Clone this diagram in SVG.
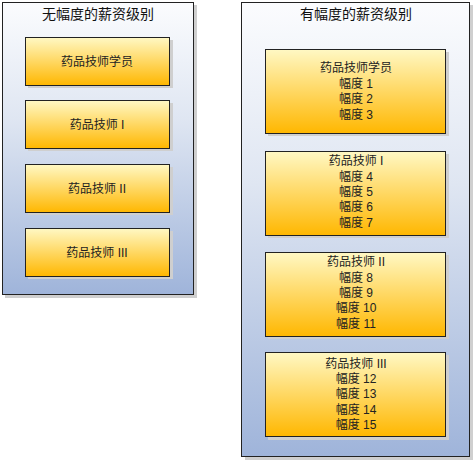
<svg xmlns="http://www.w3.org/2000/svg" width="474" height="462" viewBox="0 0 474 462">
<defs>
<linearGradient id="cg" x1="0" y1="0" x2="0" y2="1"><stop offset="0" stop-color="#fbfcfe"/><stop offset="0.4" stop-color="#dfe6f2"/><stop offset="1" stop-color="#9fb4da"/></linearGradient>
<linearGradient id="bg" x1="0" y1="0" x2="0" y2="1"><stop offset="0" stop-color="#fff8c4"/><stop offset="1" stop-color="#ffb700"/></linearGradient>
</defs>
<style>
.sh{fill:#cfcfcf}
.c{fill:url(#cg);stroke:#222;stroke-width:1}
.b{fill:url(#bg);stroke:#222;stroke-width:1}
text{font-family:"Liberation Sans","Noto Sans CJK SC",sans-serif;font-size:12px;fill:#222;text-anchor:middle}
.t{font-size:14px;fill:#111}
</style>
<g id="container-left">
<rect class="sh" x="5" y="5" width="192" height="293"/>
<rect class="c" x="2.5" y="2.5" width="191" height="292"/>
<text class="t" x="98" y="19">无幅度的薪资级别</text>
</g>
<g id="container-right">
<rect class="sh" x="245" y="5" width="228" height="455"/>
<rect class="c" x="241.5" y="2.5" width="228" height="454"/>
<text class="t" x="356" y="19">有幅度的薪资级别</text>
</g>
<g id="l1"><rect class="sh" x="28" y="40" width="145" height="48"/><rect class="b" x="25.5" y="37.5" width="144" height="48"/><text x="97" y="66">药品技师学员</text></g>
<g id="l2"><rect class="sh" x="28" y="103" width="145" height="48"/><rect class="b" x="25.5" y="100.5" width="144" height="48"/><text x="97" y="129">药品技师 I</text></g>
<g id="l3"><rect class="sh" x="28" y="167" width="145" height="48"/><rect class="b" x="25.5" y="164.5" width="144" height="48"/><text x="97" y="193">药品技师 II</text></g>
<g id="l4"><rect class="sh" x="28" y="231" width="145" height="48"/><rect class="b" x="25.5" y="228.5" width="144" height="48"/><text x="97" y="257">药品技师 III</text></g>
<g id="r1"><rect class="sh" x="268" y="52" width="181" height="84"/><rect class="b" x="265.5" y="49.5" width="180" height="84"/>
<text x="356" y="72">药品技师学员</text><text x="356" y="88">幅度 1</text><text x="356" y="103">幅度 2</text><text x="356" y="119">幅度 3</text></g>
<g id="r2"><rect class="sh" x="268" y="154" width="181" height="84"/><rect class="b" x="265.5" y="151.5" width="180" height="84"/>
<text x="356" y="165">药品技师 I</text><text x="356" y="181">幅度 4</text><text x="356" y="196">幅度 5</text><text x="356" y="211">幅度 6</text><text x="356" y="227">幅度 7</text></g>
<g id="r3"><rect class="sh" x="268" y="255" width="181" height="84"/><rect class="b" x="265.5" y="252.5" width="180" height="84"/>
<text x="356" y="266">药品技师 II</text><text x="356" y="282">幅度 8</text><text x="356" y="297">幅度 9</text><text x="356" y="312">幅度 10</text><text x="356" y="328">幅度 11</text></g>
<g id="r4"><rect class="sh" x="268" y="355" width="181" height="85"/><rect class="b" x="265.5" y="352.5" width="180" height="84"/>
<text x="356" y="368">药品技师 III</text><text x="356" y="383">幅度 12</text><text x="356" y="398">幅度 13</text><text x="356" y="414">幅度 14</text><text x="356" y="429">幅度 15</text></g>
<g id="connectors"/>
</svg>
